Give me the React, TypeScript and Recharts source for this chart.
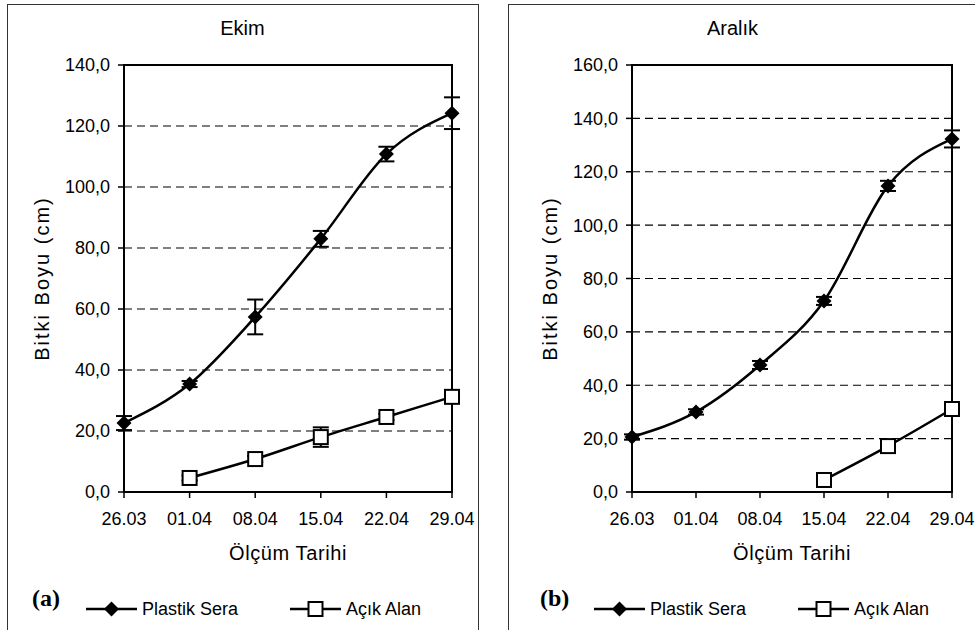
import { CartesianGrid, ErrorBar, Line, LineChart, ReferenceArea, XAxis, YAxis } from "recharts";

const dates = ["26.03", "01.04", "08.04", "15.04", "22.04", "29.04"];

// Ekim (a)
const ekimSera = [22.6, 35.4, 57.4, 83.0, 110.8, 124.2];
const ekimSeraErr = [2.3, 1.0, 5.7, 2.6, 2.4, 5.2];
const ekimAcik = [null, 4.6, 10.8, 18.0, 24.6, 31.2];
const ekimAcikErr = [null, 0.8, 1.0, 3.2, 1.0, 1.0];
const ekimTicks = [0, 20, 40, 60, 80, 100, 120, 140];

// Aralık (b)
const aralikSera = [20.6, 30.0, 47.6, 71.6, 114.7, 132.3];
const aralikSeraErr = [1.0, 1.0, 1.5, 1.5, 1.9, 3.2];
const aralikAcik = [null, null, null, 4.5, 17.2, 31.1];
const aralikAcikErr = [null, null, null, 0.8, 1.0, 1.0];
const aralikTicks = [0, 20, 40, 60, 80, 100, 120, 140, 160];

const seriesNames = ["Plastik Sera", "Açık Alan"];

const FONT = '"Liberation Sans", Arial, sans-serif';

const fmt = (v: number) => v.toFixed(1).replace(".", ",");

const Diamond = (props: any) => {
  const { cx, cy, index } = props;
  if (cx == null || cy == null) return <g key={`dm-${index}`} />;
  const r = 7.5;
  return (
    <path
      key={`dm-${index}`}
      d={`M${cx},${cy - r}L${cx + r},${cy}L${cx},${cy + r}L${cx - r},${cy}Z`}
      fill="#000"
    />
  );
};

const Square = (props: any) => {
  const { cx, cy, index } = props;
  if (cx == null || cy == null) return <g key={`sq-${index}`} />;
  const s = 7;
  return (
    <rect
      key={`sq-${index}`}
      x={cx - s}
      y={cy - s}
      width={s * 2}
      height={s * 2}
      fill="#fff"
      stroke="#000"
      strokeWidth={2}
    />
  );
};

type PanelProps = {
  left: number;
  width: number;
  yWidth: number;
  right: number;
  title: string;
  letter: string;
  ticks: number[];
  sera: (number | null)[];
  seraErr: (number | null)[];
  acik: (number | null)[];
  acikErr: (number | null)[];
  yLabelX: number;
};

function Panel(p: PanelProps) {
  const rows = dates.map((d, i) => ({
    date: d,
    sera: p.sera[i],
    seraErr: p.seraErr[i],
    acik: p.acik[i],
    acikErr: p.acikErr[i],
  }));
  const max = p.ticks[p.ticks.length - 1];
  const plotLeft = p.yWidth;

  return (
    <div style={{ position: "absolute", left: p.left, top: 0, width: p.width, height: 630 }}>
      <div
        style={{
          position: "absolute",
          left: 0,
          top: 17,
          width: p.width,
          textAlign: "center",
          fontFamily: FONT,
          fontSize: 20,
          color: "#000",
        }}
      >
        {p.title}
      </div>
      <LineChart
        width={p.width}
        height={630}
        data={rows}
        margin={{ top: 65, right: p.right, bottom: 0, left: 0 }}
      >
        <CartesianGrid vertical={false} stroke="#000" strokeDasharray="8 5" strokeWidth={1.1} />
        <XAxis
          dataKey="date"
          height={138}
          interval={0}
          tickSize={6}
          tickMargin={14}
          tick={{ fill: "#000", fontSize: 18, fontFamily: FONT }}
          axisLine={{ stroke: "#000", strokeWidth: 2 }}
          tickLine={{ stroke: "#000", strokeWidth: 1.5 }}
          label={{
            content: (lp: any) => {
              const vb = lp.viewBox;
              return (
                <text
                  x={vb.x + vb.width / 2}
                  y={553}
                  textAnchor="middle"
                  dominantBaseline="central"
                  fontFamily={FONT}
                  fontSize={20}
                  letterSpacing={0.6}
                  fill="#000"
                >
                  Ölçüm Tarihi
                </text>
              );
            },
          }}
        />
        <YAxis
          type="number"
          domain={[0, max]}
          ticks={p.ticks}
          width={p.yWidth}
          tickSize={6}
          tickMargin={8}
          tickFormatter={fmt}
          tick={{ fill: "#000", fontSize: 18, fontFamily: FONT }}
          axisLine={{ stroke: "#000", strokeWidth: 2 }}
          tickLine={{ stroke: "#000", strokeWidth: 1.5 }}
          label={{
            content: (lp: any) => {
              const vb = lp.viewBox;
              const cy = vb.y + vb.height / 2;
              return (
                <text
                  x={p.yLabelX}
                  y={cy}
                  transform={`rotate(-90 ${p.yLabelX} ${cy})`}
                  textAnchor="middle"
                  dominantBaseline="central"
                  fontFamily={FONT}
                  fontSize={20}
                  letterSpacing={2}
                  fill="#000"
                >
                  Bitki Boyu (cm)
                </text>
              );
            },
          }}
        />
        <ReferenceArea
          x1={dates[0]}
          x2={dates[dates.length - 1]}
          y1={0}
          y2={max}
          fill="none"
          fillOpacity={0}
          stroke="#000"
          strokeWidth={2}
          ifOverflow="visible"
        />
        <Line
          dataKey="acik"
          name={seriesNames[1]}
          type="monotone"
          stroke="#000"
          strokeWidth={2.5}
          dot={Square}
          activeDot={false}
          isAnimationActive={false}
        >
          <ErrorBar dataKey="acikErr" width={8} stroke="#000" strokeWidth={2} direction="y" isAnimationActive={false} />
        </Line>
        <Line
          dataKey="sera"
          name={seriesNames[0]}
          type="monotone"
          stroke="#000"
          strokeWidth={2.5}
          dot={Diamond}
          activeDot={false}
          isAnimationActive={false}
        >
          <ErrorBar dataKey="seraErr" width={8} stroke="#000" strokeWidth={2} direction="y" isAnimationActive={false} />
        </Line>
      </LineChart>
      <div
        style={{
          position: "absolute",
          left: plotLeft - 92,
          top: 585,
          fontFamily: '"Liberation Serif", "Times New Roman", serif',
          fontWeight: "bold",
          fontSize: 24,
          color: "#000",
        }}
      >
        {p.letter}
      </div>
      <svg
        style={{ position: "absolute", left: plotLeft - 40, top: 596 }}
        width={360}
        height={26}
      >
        <line x1={2} y1={13} x2={53} y2={13} stroke="#000" strokeWidth={2.5} />
        <Diamond cx={27.5} cy={13} index={0} />
        <text x={58} y={13} dominantBaseline="central" fontFamily={FONT} fontSize={18} fill="#000">
          {seriesNames[0]}
        </text>
        <line x1={206} y1={13} x2={257} y2={13} stroke="#000" strokeWidth={2.5} />
        <Square cx={231.5} cy={13} index={1} />
        <text x={262} y={13} dominantBaseline="central" fontFamily={FONT} fontSize={18} fill="#000">
          {seriesNames[1]}
        </text>
      </svg>
    </div>
  );
}

export default function App() {
  return (
    <div
      style={{
        position: "absolute",
        left: 0,
        top: 0,
        width: 975,
        height: 630,
        overflow: "hidden",
        background: "#fff",
      }}
    >
      <div
        style={{
          position: "absolute",
          left: 7,
          top: 4,
          width: 472,
          height: 640,
          boxSizing: "border-box",
          border: "1.5px solid #333",
        }}
      />
      <div
        style={{
          position: "absolute",
          left: 508,
          top: 4,
          width: 480,
          height: 640,
          boxSizing: "border-box",
          border: "1.5px solid #333",
        }}
      />
      <Panel
        left={0}
        width={485}
        yWidth={124}
        right={33}
        title="Ekim"
        letter="(a)"
        ticks={ekimTicks}
        sera={ekimSera}
        seraErr={ekimSeraErr}
        acik={ekimAcik}
        acikErr={ekimAcikErr}
        yLabelX={42}
      />
      <Panel
        left={490}
        width={485}
        yWidth={142}
        right={23}
        title="Aralık"
        letter="(b)"
        ticks={aralikTicks}
        sera={aralikSera}
        seraErr={aralikSeraErr}
        acik={aralikAcik}
        acikErr={aralikAcikErr}
        yLabelX={60}
      />
    </div>
  );
}
